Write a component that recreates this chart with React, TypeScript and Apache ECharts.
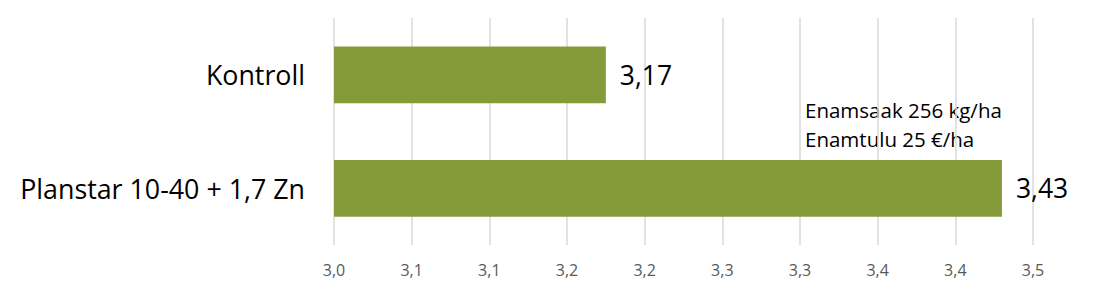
import React, { useEffect, useRef } from "react";
import * as echarts from "echarts";

const categories = ["Kontroll", "Planstar 10-40 + 1,7 Zn"];
const values = [3.175, 3.43];
const valueLabels = ["3,17", "3,43"];
const tickLabels = ["3,0", "3,1", "3,1", "3,2", "3,2", "3,3", "3,3", "3,4", "3,4", "3,5"];
const annotationLines = ["Enamsaak 256 kg/ha", "Enamtulu 25 €/ha"];

export default function App() {
  const ref = useRef<HTMLDivElement>(null);
  useEffect(() => {
    if (!ref.current) return;
    const chart = echarts.init(ref.current, null, { renderer: "svg" });
    chart.setOption({
      animation: false,
      grid: { left: 334, right: 67, top: 18, bottom: 55, containLabel: false },
      xAxis: {
        type: "value",
        min: 3.0,
        max: 3.45,
        interval: 0.05,
        axisLine: { show: false },
        axisTick: { show: false },
        splitLine: { show: true, lineStyle: { color: "#d9d9d9", width: 1.5 } },
        axisLabel: {
          color: "#595959",
          fontFamily: "Open Sans",
          fontSize: 16,
          margin: 17,
          formatter: (_v: number, i: number) => tickLabels[i] ?? "",
        },
      },
      yAxis: {
        type: "category",
        data: categories,
        inverse: true,
        axisLine: { show: false },
        axisTick: { show: false },
        axisLabel: {
          color: "#000",
          fontFamily: "Open Sans",
          fontSize: 26.8,
          margin: 29,
        },
      },
      series: [
        {
          type: "bar",
          data: values,
          barCategoryGap: "50%",
          itemStyle: { color: "#859B3A" },
          label: {
            show: true,
            position: "right",
            distance: 14,
            color: "#000",
            fontFamily: "Open Sans",
            fontSize: 26.5,
            formatter: (p: any) => valueLabels[p.dataIndex],
          },
        },
      ],
      graphic: [
        {
          type: "text",
          left: 805,
          top: 95,
          style: {
            text: annotationLines.join("\n"),
            fill: "#000",
            font: "20.5px 'Open Sans'",
            lineHeight: 29,
          },
        },
      ],
    });
    return () => chart.dispose();
  }, []);
  return (
    <div
      ref={ref}
      style={{ position: "absolute", left: 0, top: 0, width: 1100, height: 300 }}
    />
  );
}
